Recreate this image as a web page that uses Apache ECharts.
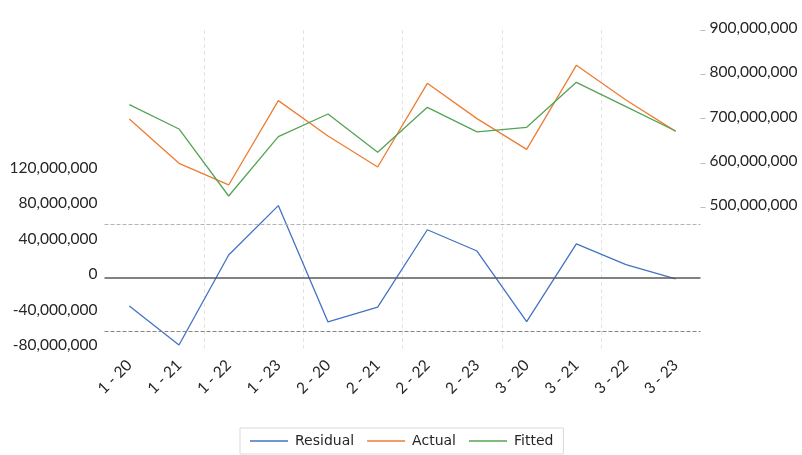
<!DOCTYPE html>
<html>
<head>
<meta charset="utf-8">
<script src="https://cdn.jsdelivr.net/npm/echarts@6/dist/echarts.min.js"></script>
<style>
  html, body { margin: 0; padding: 0; background: #fff; }
  #chart { width: 802px; height: 455px; }
</style>
</head>
<body>
<div id="chart"></div>
<script>
// Period labels (group - period)
const categories = ['1 - 20', '1 - 21', '1 - 22', '1 - 23', '2 - 20', '2 - 21',
                    '2 - 22', '2 - 23', '3 - 20', '3 - 21', '3 - 22', '3 - 23'];

// Observed and model values (right axis)
const actual = [699200000, 599200000, 550400000, 740600000, 660900000, 591000000,
                779700000, 700000000, 630800000, 820300000, 742100000, 671400000];
const fitted = [731600000, 676700000, 525500000, 659400000, 710500000, 624000000,
                725500000, 670000000, 680400000, 782000000, 727000000, 672200000];

// Residuals (left axis)
const residual = [-32000000, -76000000, 25700000, 81500000, -50000000, -33300000,
                  54200000, 30200000, -49700000, 38200000, 14700000, -1300000];

// Residual control band
const bandUpper = 60300000;
const bandLower = -60300000;

// Visible tick ranges for each value axis
const leftLabelMax = 120000000;
const rightTicks = [500000000, 600000000, 700000000, 800000000, 900000000];

const fmt = v => Math.round(v).toLocaleString('en-US');
const axisFont = { fontFamily: 'Lato', fontSize: 15.5, color: '#262626' };

const chart = echarts.init(document.getElementById('chart'), null, { renderer: 'canvas' });

chart.setOption({
  animation: false,
  color: ['#4472C4', '#ED7D31', '#55A355'],
  grid: [
    { left: 104.5, right: 101.5, top: 30, bottom: 106.5 },
    { left: 104.5, right: 101.5, top: 30, bottom: 247.7 }
  ],
  legend: {
    data: ['Residual', 'Actual', 'Fitted'],
    left: 240,
    top: 428,
    padding: [6, 10, 6, 10],
    itemGap: 13,
    itemWidth: 38,
    itemHeight: 1.4,
    icon: 'rect',
    borderColor: '#d9d9d9',
    borderWidth: 1,
    textStyle: { fontFamily: 'DejaVu Sans', fontSize: 14, color: '#262626', padding: [0, 0, 0, 2] }
  },
  xAxis: [
    {
      type: 'category',
      gridIndex: 0,
      data: categories,
      boundaryGap: true,
      axisLine: { show: false },
      axisTick: { show: false },
      axisLabel: Object.assign({ rotate: 45, margin: 14, interval: 0 }, axisFont),
      splitLine: {
        show: true,
        showMinLine: false,
        showMaxLine: false,
        interval: (i) => i % 2 === 0,
        lineStyle: { color: '#e3e3e3', type: [4, 3], width: 1 }
      }
    },
    {
      type: 'category',
      gridIndex: 1,
      data: categories,
      boundaryGap: true,
      show: false
    }
  ],
  yAxis: [
    {
      type: 'value',
      gridIndex: 0,
      position: 'left',
      min: -80000000,
      max: 280000000,
      interval: 40000000,
      axisLine: { show: false },
      axisTick: { show: false },
      splitLine: { show: false },
      axisLabel: {
        margin: 7,
        formatter: v => (v > leftLabelMax ? '' : '{t|' + fmt(v) + '}'),
        rich: { t: Object.assign({ padding: [0, 0, 7, 0] }, axisFont) }
      }
    },
    {
      type: 'value',
      gridIndex: 1,
      position: 'right',
      min: rightTicks[0],
      max: rightTicks[rightTicks.length - 1],
      interval: 100000000,
      axisLine: { show: false },
      axisTick: { show: true, inside: false, length: 5, lineStyle: { color: '#bfbfbf' } },
      splitLine: { show: false },
      axisLabel: {
        margin: 9,
        formatter: v => '{t|' + fmt(v) + '}',
        rich: { t: Object.assign({ padding: [0, 0, 4, 0] }, axisFont) }
      }
    }
  ],
  series: [
    {
      name: 'Residual',
      type: 'line',
      xAxisIndex: 0,
      yAxisIndex: 0,
      data: residual,
      symbol: 'none',
      lineStyle: { width: 1.3 },
      markLine: {
        silent: true,
        symbol: 'none',
        label: { show: false },
        data: [
          { yAxis: 0, lineStyle: { color: '#595959', type: 'solid', width: 1.5 } },
          { yAxis: bandUpper, lineStyle: { color: '#b3b3b3', type: [4, 2], width: 1.2 } },
          { yAxis: bandLower, lineStyle: { color: '#858585', type: [4, 2], width: 1.2 } }
        ]
      },
      z: 2
    },
    {
      name: 'Actual',
      type: 'line',
      xAxisIndex: 1,
      yAxisIndex: 1,
      data: actual,
      symbol: 'none',
      lineStyle: { width: 1.3 },
      z: 3
    },
    {
      name: 'Fitted',
      type: 'line',
      xAxisIndex: 1,
      yAxisIndex: 1,
      data: fitted,
      symbol: 'none',
      lineStyle: { width: 1.3 },
      z: 4
    }
  ]
});
</script>
</body>
</html>
